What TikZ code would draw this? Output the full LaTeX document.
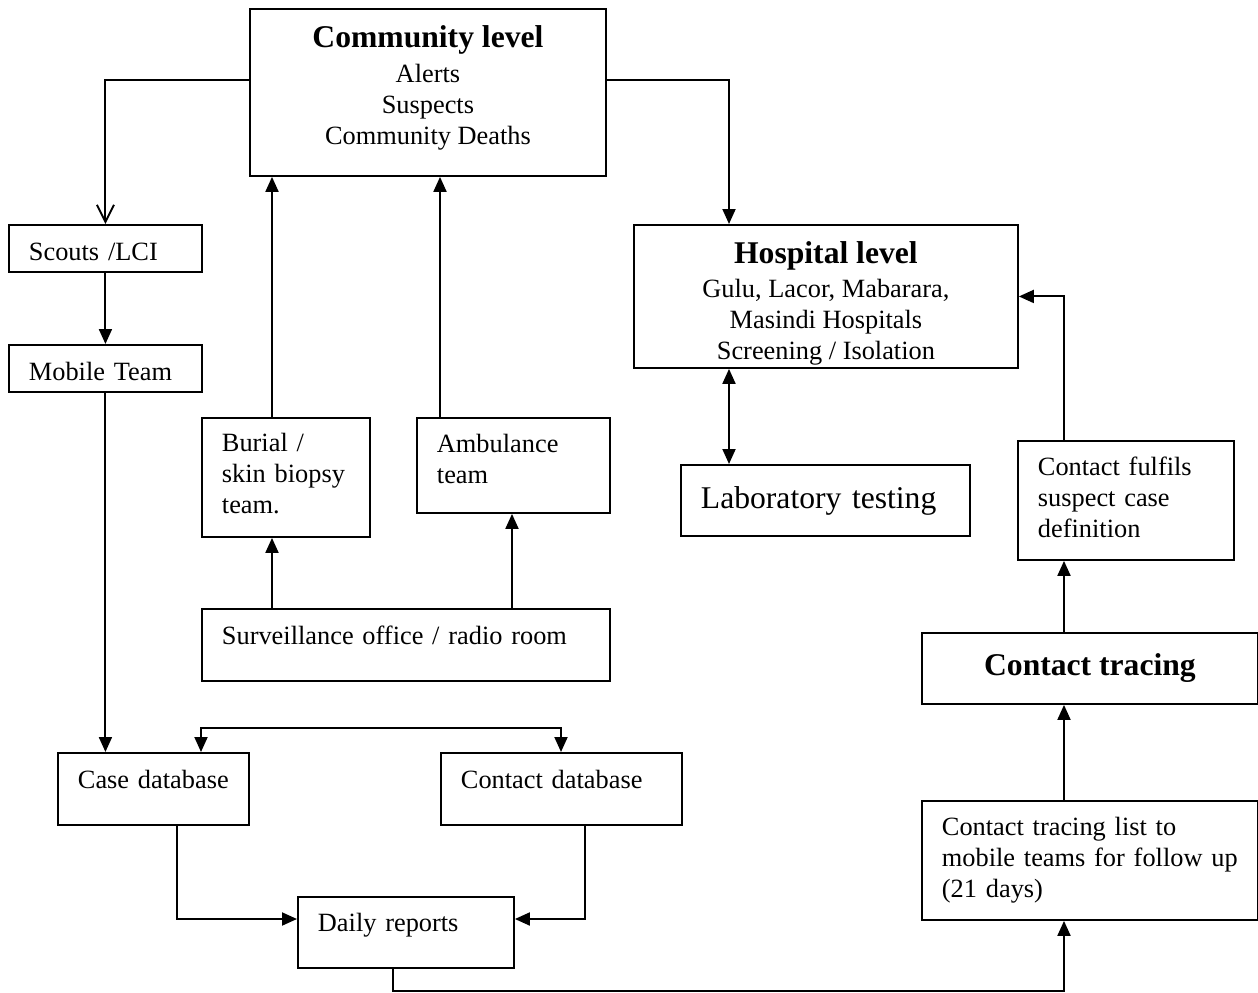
\documentclass[tikz,border=0pt]{standalone}
\usepackage{fontspec}
\setmainfont{Liberation Serif}
\usetikzlibrary{arrows.meta,positioning}

\newcommand{\headfont}{\bfseries\fontsize{18}{21}\selectfont}
\newcommand{\lift}[1]{\rule[-#1]{0pt}{0pt}}

\begin{document}
\begin{tikzpicture}[x=0.02cm, y=-0.02cm,
  box/.style={draw, line width=1.1pt, anchor=north west, inner xsep=0.4cm, inner ysep=0pt, font=\fontsize{15}{17.6}\selectfont},
  lbox/.style={box, align=left},
  cbox/.style={box, align=center},
  raised/.style={text depth=0.4cm},
  link/.style={line width=1.1pt, -{Triangle[length=0.3cm,width=0.26cm]}},
  both/.style={line width=1.1pt, {Triangle[length=0.3cm,width=0.26cm]}-{Triangle[length=0.3cm,width=0.26cm]}},
  openlink/.style={line width=1.1pt, -{Straight Barb[length=0.34cm,width=0.34cm]}}]
\useasboundingbox (0,0) rectangle (1258,993);

% Boxes
\node[cbox, text depth=0.3cm, minimum width=7.12cm, minimum height=3.34cm] (comm) at (249,8) {{\headfont Community level}\\[2pt] Alerts\\ Suspects\\ Community Deaths};
\node[lbox, text height=0.5cm, text width=3.06cm, minimum height=0.94cm] (scouts) at (8,224) {Scouts /LCI};
\node[lbox, text height=0.5cm, text width=3.06cm, minimum height=0.94cm] (mobile) at (8,344) {Mobile Team};
\node[cbox, minimum width=7.68cm, minimum height=2.86cm] (hosp) at (633,224) {{\headfont\rule{0pt}{0.72cm}Hospital level}\\[2pt] Gulu, Lacor, Mabarara,\\ Masindi Hospitals\\ Screening / Isolation};
\node[lbox, text width=2.56cm, minimum height=2.38cm] (burial) at (201,417) {Burial /\\ skin biopsy\\ team.\lift{0.16cm}};
\node[lbox, text width=3.06cm, minimum height=1.9cm] (amb) at (416,417) {Ambulance\\ team\lift{0.28cm}};
\node[lbox, raised, text width=7.36cm, minimum height=1.44cm] (surv) at (201,608) {Surveillance office / radio room};
\node[lbox, text width=4.98cm, minimum height=1.42cm, font=\fontsize{18}{21}\selectfont] (lab) at (680,464) {Laboratory testing};
\node[lbox, text width=3.52cm, minimum height=2.38cm] (ful) at (1017,440) {Contact fulfils\\ suspect case\\ definition\lift{0.12cm}};
\node[cbox, minimum width=6.72cm, minimum height=1.42cm] (trac) at (921,632) {\headfont Contact tracing};
\node[lbox, text width=5.92cm, minimum height=2.38cm] (list) at (921,800) {Contact tracing list to\\ mobile teams for follow up\\ (21 days)};
\node[lbox, raised, text width=3.02cm, minimum height=1.44cm] (case) at (57,752) {Case database};
\node[lbox, raised, text width=4.02cm, minimum height=1.44cm] (cdb) at (440,752) {Contact database};
\node[lbox, raised, text width=3.52cm, minimum height=1.42cm] (daily) at (297,896) {Daily reports};

\coordinate (bus) at (381,728);
\coordinate (loop) at (393,991);

% Connectors
\draw[openlink] (comm.west |- 0,80) -| (scouts.north);
\draw[link] (comm.east |- 0,80) -| (hosp.north -| 729,0);
\draw[link] (scouts) -- (mobile);
\draw[link] (mobile.south) -- (mobile.south |- case.north);
\foreach \src/\dst/\x in {surv/burial/272, surv/amb/512, burial/comm/272, amb/comm/440, list/trac/1064, trac/ful/1064}
  \draw[link] (\src.north -| \x,0) -- (\dst.south -| \x,0);
\draw[both] (hosp.south -| 729,0) -- (lab.north -| 729,0);
\draw[link] (ful.north -| 1064,0) |- (hosp.east);
\draw[both] (case.north -| 201,0) |- (bus) -| (cdb.north -| 561,0);
\draw[link] (case.south -| 177,0) |- (daily.west |- 0,919);
\draw[link] (cdb.south -| 585,0) |- (daily.east |- 0,919);
\draw[link] (daily.south -| 393,0) -- (loop) -| (list.south -| 1064,0);

\end{tikzpicture}
\end{document}
